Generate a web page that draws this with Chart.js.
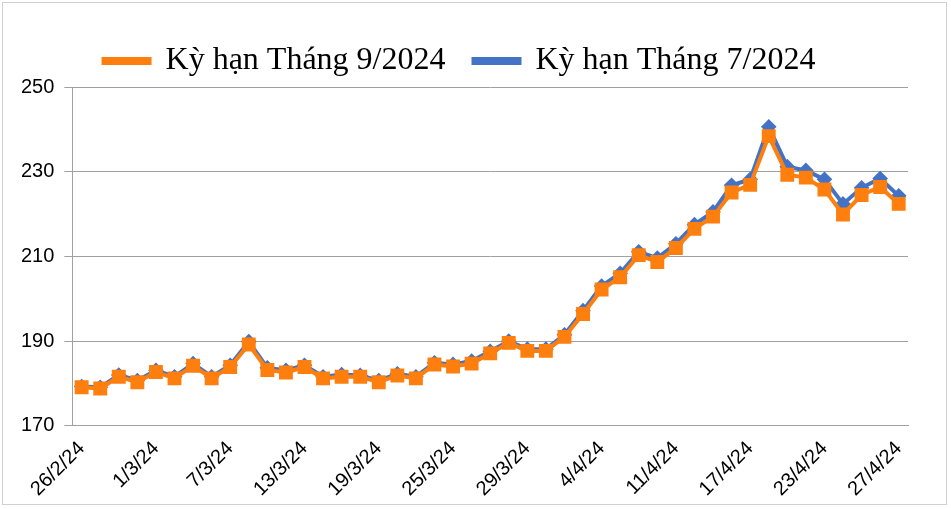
<!DOCTYPE html>
<html>
<head>
<meta charset="utf-8">
<script src="https://cdn.jsdelivr.net/npm/chart.js@4"></script>
<style>
  body { margin: 0; background: #fff; }
  #wrap { position: absolute; left: 2px; top: 2px; width: 945px; height: 503px; border: 1px solid #d0d0d0; box-sizing: border-box; }
</style>
</head>
<body>
<div id="wrap"><canvas id="priceChart"></canvas></div>
<script>
const tickLabels = ['26/2/24', '1/3/24', '7/3/24', '13/3/24', '19/3/24', '25/3/24',
  '29/3/24', '4/4/24', '11/4/24', '17/4/24', '23/4/24', '27/4/24'];
// 45 trading sessions, only every 4th is labelled on the axis
const categories = [];
for (let i = 0; i < 45; i++) categories.push(i % 4 === 0 ? tickLabels[i / 4] : '');

const jul2024 = [179.3, 179.1, 182.0, 180.7, 183.1, 181.6, 184.7, 181.6, 184.3, 189.9,
  183.7, 183.1, 184.3, 181.6, 182.1, 181.9, 180.7, 182.3, 181.6, 184.9,
  184.5, 185.3, 187.6, 190.0, 188.1, 188.1, 191.5, 197.2, 203.0, 206.0,
  211.1, 209.6, 213.0, 217.5, 220.5, 226.8, 228.2, 240.6, 231.2, 230.3,
  228.2, 222.4, 226.2, 228.4, 224.3];
const sep2024 = [179.1, 178.8, 181.6, 180.3, 182.7, 181.2, 184.2, 181.2, 183.9, 189.2,
  183.2, 182.6, 183.9, 181.2, 181.6, 181.6, 180.3, 181.9, 181.2, 184.5,
  184.0, 184.7, 187.1, 189.6, 187.7, 187.7, 191.0, 196.4, 202.2, 205.1,
  210.3, 208.7, 212.0, 216.5, 219.4, 225.1, 226.9, 238.4, 229.3, 228.6,
  225.8, 219.9, 224.5, 226.4, 222.4];
const yTicks = [170, 190, 210, 230, 250];

new Chart(document.getElementById('priceChart').getContext('2d'), {
  type: 'line',
  data: {
    labels: categories,
    datasets: [{
      label: 'Kỳ hạn Tháng 7/2024',
      data: jul2024,
      borderColor: '#4472c4',
      backgroundColor: '#4472c4',
      borderWidth: 4,
      pointStyle: 'rectRot',
      pointRadius: 5,
      tension: 0,
      order: 1
    }, {
      label: 'Kỳ hạn Tháng 9/2024',
      data: sep2024,
      borderColor: '#ff7f0e',
      backgroundColor: '#ff7f0e',
      borderWidth: 4,
      pointStyle: 'rect',
      pointRadius: 7,
      tension: 0,
      order: 0
    }]
  },
  options: {
    responsive: true,
    maintainAspectRatio: false,
    animation: false,
    layout: { padding: { left: 8, right: 38, top: 14, bottom: 0 } },
    plugins: {
      legend: {
        labels: {
          font: { family: 'Liberation Serif', size: 32 },
          color: '#000',
          boxWidth: 46,
          boxHeight: 4,
          padding: 28
        }
      },
      tooltip: { enabled: false }
    },
    scales: {
      x: {
        offset: true,
        grid: { display: false },
        border: { color: '#a0a0a0' },
        ticks: {
          autoSkip: false,
          maxRotation: 45, minRotation: 45,
          color: '#000',
          font: { family: 'Liberation Sans', size: 20 }
        }
      },
      y: {
        min: 170, max: 250,
        afterBuildTicks: axis => { axis.ticks = yTicks.map(v => ({ value: v })); },
        grid: { color: '#a0a0a0' },
        border: { display: true, color: '#a0a0a0' },
        ticks: { color: '#000', font: { family: 'Liberation Sans', size: 20 }, padding: 10 }
      }
    }
  }
});
</script>
</body>
</html>
